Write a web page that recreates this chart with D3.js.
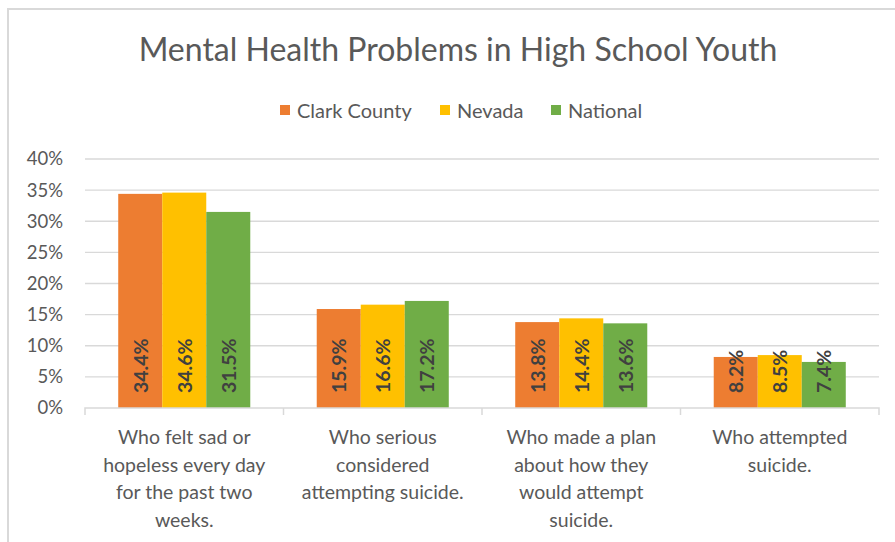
<!DOCTYPE html>
<html>
<head>
<meta charset="utf-8">
<script src="https://cdn.jsdelivr.net/npm/d3@7"></script>
<style>
    body { margin: 0; background: #fff; }
    text { font-family: Lato, 'Open Sans', sans-serif; }
</style>
</head>
<body>
<svg></svg>
<script>
const categories = ['sad', 'considered', 'plan', 'attempted'];
const categoryLabels = [
    ['Who felt sad or', 'hopeless every day', 'for the past two', 'weeks.'],
    ['Who serious', 'considered', 'attempting suicide.'],
    ['Who made a plan', 'about how they', 'would attempt', 'suicide.'],
    ['Who attempted', 'suicide.']
];
const seriesNames = ['Clark County', 'Nevada', 'National'];
const clarkCounty = [34.4, 15.9, 13.8, 8.2];
const nevada = [34.6, 16.6, 14.4, 8.5];
const national = [31.5, 17.2, 13.6, 7.4];
const yTicks = [0, 5, 10, 15, 20, 25, 30, 35, 40];

const colors = ['#ED7D31', '#FFC000', '#70AD47'];
const seriesValues = [clarkCounty, nevada, national];

let width = 895;
let height = 542;
let plotLeft = 85, plotRight = 879, plotTop = 159, plotBottom = 408;

let svg = d3.select('svg')
    .attr('width', width)
    .attr('height', height);

// chart frame (only top and left edges are visible in the shot)
svg.append('path')
    .attr('d', 'M8,' + height + 'V9H' + width)
    .attr('fill', 'none')
    .attr('stroke', '#d9d9d9')
    .attr('stroke-width', 2);

svg.append('text')
    .attr('x', 458)
    .attr('y', 61)
    .attr('text-anchor', 'middle')
    .attr('fill', '#595959')
    .style('font-size', '32px')
    .text('Mental Health Problems in High School Youth');

let xScale = d3.scaleBand()
    .domain(categories)
    .range([plotLeft, plotRight]);

let innerScale = d3.scaleBand()
    .domain(seriesNames)
    .range([0, xScale.bandwidth()])
    .paddingInner(0)
    .paddingOuter(0.755);

let yScale = d3.scaleLinear()
    .domain([0, 40])
    .range([plotBottom, plotTop]);

// gridlines
svg.append('g')
    .selectAll('line')
    .data(yTicks.slice(1))
    .enter()
    .append('line')
    .attr('x1', plotLeft)
    .attr('x2', plotRight)
    .attr('y1', d => yScale(d))
    .attr('y2', d => yScale(d))
    .attr('stroke', '#d9d9d9')
    .attr('stroke-width', 1.3);

let yAxis = d3.axisLeft(yScale)
    .tickValues(yTicks)
    .tickSize(0)
    .tickPadding(22)
    .tickFormat(d => d + '%');

svg.append('g')
    .attr('transform', 'translate(' + plotLeft + ',0)')
    .call(yAxis)
    .call(g => g.select('.domain').remove())
    .selectAll('text')
    .attr('fill', '#595959')
    .style('font-size', '18.5px');

let groups = svg.append('g')
    .selectAll('g')
    .data(categories)
    .enter()
    .append('g')
    .attr('transform', d => 'translate(' + xScale(d) + ',0)');

groups.selectAll('rect')
    .data((d, i) => seriesNames.map((s, j) => ({ s: s, v: seriesValues[j][i], j: j })))
    .enter()
    .append('rect')
    .attr('x', d => innerScale(d.s))
    .attr('width', innerScale.bandwidth())
    .attr('y', d => yScale(d.v))
    .attr('height', d => plotBottom - yScale(d.v))
    .attr('fill', d => colors[d.j]);

groups.selectAll('text.label')
    .data((d, i) => seriesNames.map((s, j) => ({ s: s, v: seriesValues[j][i] })))
    .enter()
    .append('text')
    .attr('class', 'label')
    .attr('transform', d => 'translate(' + (innerScale(d.s) + innerScale.bandwidth() / 2) + ',' + (plotBottom - 15) + ') rotate(-90)')
    .attr('dominant-baseline', 'central')
    .attr('fill', '#404040')
    .style('font-size', '19.5px')
    .style('font-weight', 'bold')
    .text(d => d.v.toFixed(1) + '%');

// x axis line with boundary ticks
let xAxis = d3.axisBottom(xScale)
    .tickSize(0)
    .tickFormat('');

svg.append('g')
    .attr('transform', 'translate(0,' + plotBottom + ')')
    .call(xAxis)
    .call(g => g.select('.domain').attr('stroke', '#d9d9d9').attr('stroke-width', 1.5)
        .attr('d', 'M' + plotLeft + ',7V0H' + plotRight + 'V7'))
    .selectAll('.tick line').remove();

svg.append('g')
    .selectAll('line')
    .data(categories.slice(1))
    .enter()
    .append('line')
    .attr('x1', d => xScale(d))
    .attr('x2', d => xScale(d))
    .attr('y1', plotBottom)
    .attr('y2', plotBottom + 7)
    .attr('stroke', '#d9d9d9')
    .attr('stroke-width', 1.5);

// category labels
svg.append('g')
    .selectAll('text')
    .data(categories)
    .enter()
    .append('text')
    .attr('x', d => xScale(d) + xScale.bandwidth() / 2)
    .attr('y', 444)
    .attr('text-anchor', 'middle')
    .attr('fill', '#595959')
    .style('font-size', '19.5px')
    .each(function (d, i) {
        d3.select(this).selectAll('tspan')
            .data(categoryLabels[i])
            .enter()
            .append('tspan')
            .attr('x', xScale(d) + xScale.bandwidth() / 2)
            .attr('dy', (l, k) => k === 0 ? 0 : 27.5)
            .text(l => l);
    });

// legend
let legendX = [280, 440, 551];
let legend = svg.append('g')
    .selectAll('g')
    .data(seriesNames)
    .enter()
    .append('g')
    .attr('transform', (d, i) => 'translate(' + legendX[i] + ',105)');

legend.append('rect')
    .attr('width', 10)
    .attr('height', 10)
    .attr('fill', (d, i) => colors[i]);

legend.append('text')
    .attr('x', 17)
    .attr('y', 5)
    .attr('dominant-baseline', 'central')
    .attr('fill', '#595959')
    .style('font-size', '20px')
    .text(d => d);
</script>
</body>
</html>
